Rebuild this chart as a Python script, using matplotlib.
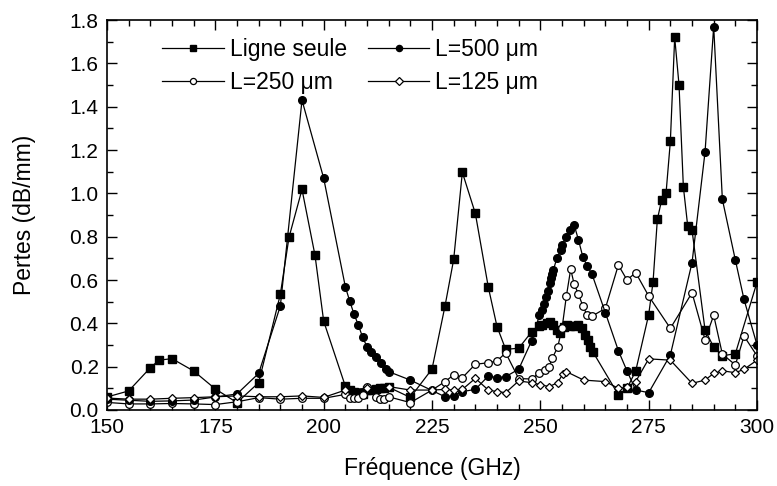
#Name: pertes
#
#Purpose: losses (dB/mm) vs frequency for the line alone and for three L values
#
#Outputs: out.png
import numpy as np
import matplotlib
matplotlib.use('Agg')
import matplotlib.pyplot as plt
from matplotlib.ticker import MultipleLocator

#data
#Ligne seule
freq_ligne = [150, 155, 160, 162, 165, 170, 175, 180, 185, 190, 192, 195, 198, 200,
              205, 206, 207, 208, 209, 210, 211, 212, 213, 214, 215, 220, 225, 228,
              230, 232, 235, 238, 240, 242, 245, 248, 249.8, 250.4, 251.5, 252.3, 253,
              253.8, 254.6, 255.4, 256.2, 256.9, 257.9, 258.8, 259.6, 260.4, 261,
              261.5, 262.1, 268, 270, 272, 275, 276, 277, 278, 279, 280, 281, 282,
              283, 284, 285, 288, 290, 292, 295, 300]
pertes_ligne = [0.06, 0.088, 0.195, 0.23, 0.237, 0.18, 0.097, 0.034, 0.126, 0.534, 0.797,
                1.018, 0.714, 0.41, 0.11, 0.09, 0.085, 0.08, 0.076, 0.09, 0.09, 0.095,
                0.1, 0.1, 0.105, 0.058, 0.189, 0.48, 0.695, 1.097, 0.907, 0.566, 0.385,
                0.28, 0.285, 0.361, 0.388, 0.39, 0.403, 0.408, 0.392, 0.369, 0.357,
                0.385, 0.392, 0.388, 0.388, 0.392, 0.377, 0.346, 0.323, 0.292, 0.269,
                0.07, 0.10, 0.18, 0.44, 0.59, 0.88, 0.97, 1.0, 1.24, 1.72, 1.5, 1.03,
                0.85, 0.83, 0.37, 0.29, 0.25, 0.26, 0.59]
#L=500 um
freq_500 = [150, 155, 160, 165, 170, 175, 180, 185, 190, 195, 200, 205, 206, 207, 208,
            209, 210, 211, 212, 213.3, 214.4, 215, 220, 228, 230, 232, 235, 238, 240,
            242, 245, 248, 249.8, 250.4, 250.8, 251.2, 251.7, 252.2, 252.5, 252.8, 253,
            253.8, 254.8, 255, 256, 256.9, 257.8, 258.8, 259.8, 260.8, 261.9, 265, 268,
            270, 272, 275, 280, 285, 288, 290, 292, 295, 297, 300]
pertes_500 = [0.05, 0.045, 0.04, 0.042, 0.046, 0.06, 0.074, 0.169, 0.48, 1.43, 1.07,
              0.569, 0.503, 0.443, 0.392, 0.335, 0.292, 0.269, 0.243, 0.215, 0.189,
              0.177, 0.138, 0.061, 0.066, 0.085, 0.095, 0.157, 0.149, 0.154, 0.188,
              0.32, 0.438, 0.46, 0.49, 0.52, 0.55, 0.585, 0.61, 0.63, 0.646, 0.70,
              0.738, 0.76, 0.80, 0.83, 0.854, 0.785, 0.707, 0.665, 0.628, 0.449, 0.274,
              0.18, 0.092, 0.08, 0.254, 0.68, 1.19, 1.77, 0.972, 0.692, 0.51, 0.30]
#L=250 um
freq_250 = [150, 155, 160, 165, 170, 175, 180, 185, 190, 195, 200, 205, 206, 207, 208,
            209, 210, 212, 213, 214, 215, 220, 225, 228, 230, 232, 235, 238, 240, 242,
            245, 248, 249.6, 251, 252, 252.8, 254, 255, 256, 257, 257.8, 258.8, 259.8,
            260.8, 262, 265, 268, 270, 272, 275, 280, 285, 288, 290, 292, 295, 297, 300]
pertes_250 = [0.035, 0.028, 0.028, 0.03, 0.028, 0.025, 0.038, 0.057, 0.05, 0.054, 0.054,
              0.072, 0.057, 0.054, 0.054, 0.069, 0.105, 0.061, 0.049, 0.049, 0.061,
              0.034, 0.092, 0.131, 0.162, 0.149, 0.211, 0.218, 0.226, 0.264, 0.145,
              0.143, 0.169, 0.185, 0.2, 0.241, 0.29, 0.377, 0.525, 0.65, 0.581, 0.534,
              0.48, 0.438, 0.434, 0.469, 0.669, 0.6, 0.634, 0.526, 0.377, 0.541, 0.325,
              0.437, 0.258, 0.208, 0.341, 0.25]
#L=125 um
freq_125 = [150, 155, 160, 165, 170, 175, 180, 185, 190, 195, 200, 205, 210, 215, 220,
            225, 228, 230, 232, 235, 238, 240, 242, 245, 248, 250, 252, 254, 255.2, 256,
            260, 265, 268, 270, 272, 275, 280, 285, 288, 290, 292, 295, 297, 300]
pertes_125 = [0.055, 0.05, 0.05, 0.054, 0.057, 0.061, 0.065, 0.061, 0.061, 0.065, 0.058,
              0.092, 0.1, 0.108, 0.092, 0.092, 0.095, 0.092, 0.095, 0.146, 0.092, 0.085,
              0.08, 0.134, 0.126, 0.117, 0.108, 0.126, 0.167, 0.177, 0.138, 0.131, 0.1,
              0.105, 0.131, 0.236, 0.23, 0.123, 0.138, 0.169, 0.181, 0.172, 0.188, 0.23]

plt.rcParams['font.family'] = ['Liberation Sans', 'DejaVu Sans']
plt.rcParams['font.size'] = 15

fig = plt.figure(figsize=(7.77, 4.86), dpi=100)
ax = fig.add_axes([0.1377, 0.1564, 0.8366, 0.8024])

lw = 0.9
ax.plot(freq_ligne, pertes_ligne, 'k-', marker='s', ms=5.5, lw=lw, label='Ligne seule')
ax.plot(freq_250, pertes_250, 'k-', marker='o', ms=5.5, mfc='white', mew=0.9, lw=lw,
        label='L=250 \u03bcm')
ax.plot(freq_500, pertes_500, 'k-', marker='o', ms=5.5, lw=lw, label='L=500 \u03bcm')
ax.plot(freq_125, pertes_125, 'k-', marker='D', ms=4.5, mfc='white', mew=0.9, lw=lw,
        label='L=125 \u03bcm')

ax.set_xlim(150, 300)
ax.set_ylim(0, 1.8)
ax.xaxis.set_major_locator(MultipleLocator(25))
ax.xaxis.set_minor_locator(MultipleLocator(5))
ax.yaxis.set_major_locator(MultipleLocator(0.2))
ax.yaxis.set_minor_locator(MultipleLocator(0.1))
ax.yaxis.set_major_formatter(matplotlib.ticker.FormatStrFormatter('%.1f'))
ax.tick_params(which='both', direction='in', top=True, right=True, width=1)
ax.tick_params(which='major', length=7, pad=6)
ax.tick_params(which='minor', length=4)
for s in ax.spines.values():
    s.set_linewidth(1.2)

ax.set_xlabel('Fréquence (GHz)', fontsize=16.5, labelpad=14)
ax.set_ylabel('Pertes (dB/mm)', fontsize=16.5, labelpad=24)

ax.legend(ncol=2, loc='upper left', bbox_to_anchor=(0.085, 0.955), frameon=False,
          fontsize=16.5, numpoints=1, markerscale=0.8, handlelength=2.7,
          handletextpad=0.25, columnspacing=0.9, labelspacing=0.45, borderpad=0,
          borderaxespad=0)

plt.savefig('out.png', dpi=100)
